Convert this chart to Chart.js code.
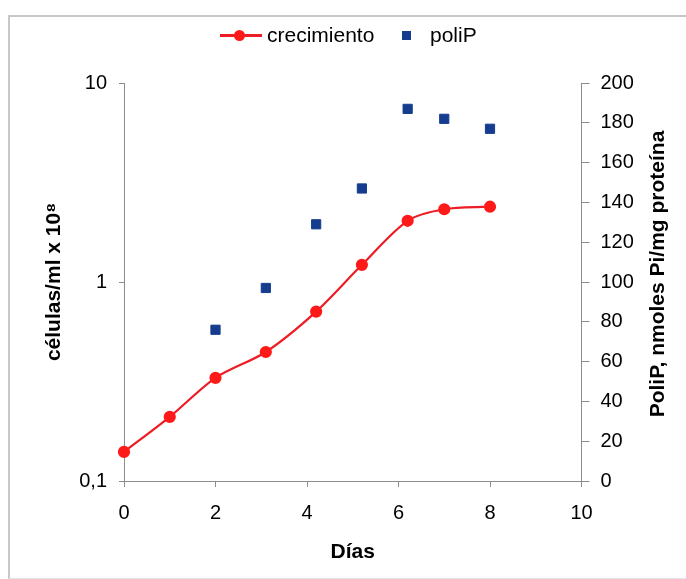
<!DOCTYPE html>
<html>
<head>
<meta charset="utf-8">
<script src="https://cdn.jsdelivr.net/npm/chart.js@4"></script>
<style>
  html, body { margin: 0; padding: 0; background: #fff; }
  #wrap { position: relative; width: 686px; height: 579px; font-family: "Liberation Sans", Arial, sans-serif; }
  #frame { position: absolute; left: 8px; top: 15px; width: 690px; height: 561px;
           border-left: 2px solid #c8c8c8; border-top: 2px solid #c8c8c8; border-bottom: 1px solid #e4e4e4; }
  #chart-box { position: absolute; left: 0; top: 0; width: 686px; height: 579px; }
  .legend { position: absolute; top: 22px; left: 0; height: 28px; font-size: 21px; color: #000; }
  .legend span { position: absolute; white-space: nowrap; }
  .leg-line { top: 12px; height: 3px; background: #ee1c25; }
  .leg-dot { top: 8px; width: 11px; height: 11px; border-radius: 50%; background: #ff1a1a; }
  .leg-sq { top: 9px; width: 9px; height: 9px; background: #153c8e; }
  .leg-text { top: 0; line-height: 26px; }
</style>
</head>
<body>
<div id="wrap">
  <div id="frame"></div>
  <div id="chart-box"><canvas id="chart"></canvas></div>
  <div class="legend">
    <span class="leg-line" style="left:220px;width:42px"></span>
    <span class="leg-dot" style="left:234px"></span>
    <span class="leg-text" style="left:267px">crecimiento</span>
    <span class="leg-sq" style="left:402px"></span>
    <span class="leg-text" style="left:430px">poliP</span>
  </div>
</div>
<script>
// x values (días)
const diasCrecimiento = [0, 1, 2, 3.1, 4.2, 5.2, 6.2, 7, 8];
const crecimiento = [0.14, 0.21, 0.33, 0.445, 0.71, 1.22, 2.03, 2.32, 2.39];

const diasPoliP = [2, 3.1, 4.2, 5.2, 6.2, 7, 8];
const poliP = [76, 97, 129, 147, 187, 182, 177];

// left log axis ticks
const leftTickValues = [0.1, 1, 10];
const leftTickLabels = ["0,1", "1", "10"];

const tituloX = "Días";
const tituloY = "células/ml x 10\u2078";
const tituloY2 = "PoliP, nmoles Pi/mg proteína";

const axisColor = "#8c8c8c";
const tickFont = { family: "'Liberation Sans', Arial, sans-serif", size: 20 };
const titleFont = { family: "'Liberation Sans', Arial, sans-serif", size: 21, weight: "bold" };

// Chart.js puts right-hand titles top-to-bottom, the reference reads bottom-to-top
const rightTitle = {
  id: "rightTitle",
  afterDraw(chart) {
    const s = chart.scales.y2;
    const ctx = chart.ctx;
    ctx.save();
    ctx.translate(s.right - 28, (s.top + s.bottom) / 2 - 8);
    ctx.rotate(-Math.PI / 2);
    ctx.font = "bold 21px 'Liberation Sans', Arial, sans-serif";
    ctx.textAlign = "center";
    ctx.textBaseline = "middle";
    ctx.fillStyle = "#000";
    ctx.fillText(tituloY2, 0, 0);
    ctx.restore();
  },
};

const ctx = document.getElementById("chart").getContext("2d");
new Chart(ctx, {
  type: "scatter",
  data: {
    datasets: [
      {
        label: "crecimiento",
        data: diasCrecimiento.map((d, i) => ({ x: d, y: crecimiento[i] })),
        yAxisID: "y",
        showLine: true,
        tension: 0.3,
        borderColor: "#ee1c25",
        borderWidth: 2.2,
        pointBackgroundColor: "#ff1a1a",
        pointBorderColor: "#ff1a1a",
        pointRadius: 5,
        pointHoverRadius: 5,
        clip: false,
      },
      {
        label: "poliP",
        data: diasPoliP.map((d, i) => ({ x: d, y: poliP[i] })),
        yAxisID: "y2",
        pointStyle: "rect",
        pointBackgroundColor: "#153c8e",
        pointBorderColor: "#153c8e",
        pointRadius: 6.5,
        pointHoverRadius: 6.5,
        clip: false,
      },
    ],
  },
  options: {
    responsive: true,
    maintainAspectRatio: false,
    animation: false,
    layout: { padding: { top: 83, left: 0, right: 0, bottom: 0 } },
    plugins: {
      legend: { display: false },
      tooltip: { enabled: false },
    },
    scales: {
      x: {
        type: "linear",
        min: 0,
        max: 10,
        ticks: { stepSize: 2, font: tickFont, color: "#000", padding: 14 },
        grid: { drawOnChartArea: false, tickLength: 6, color: axisColor },
        border: { color: axisColor, width: 1 },
        title: { display: true, text: tituloX, font: titleFont, color: "#000", padding: { top: 0, bottom: 14 } },
        afterFit(scale) { scale.height = 98; },
      },
      y: {
        type: "logarithmic",
        position: "left",
        min: 0.1,
        max: 10,
        afterBuildTicks(scale) {
          scale.ticks = leftTickValues.map((v) => ({ value: v }));
        },
        ticks: {
          font: tickFont,
          color: "#000",
          padding: 12,
          callback: (v) => leftTickLabels[leftTickValues.indexOf(v)] ?? "",
        },
        grid: { drawOnChartArea: false, tickLength: 5, color: axisColor },
        border: { color: axisColor, width: 1 },
        title: { display: true, text: tituloY, font: titleFont, color: "#000", padding: { top: 42, bottom: 0 } },
        afterFit(scale) { scale.width = 124; },
      },
      y2: {
        type: "linear",
        position: "right",
        min: 0,
        max: 200,
        ticks: { stepSize: 20, font: tickFont, color: "#000", padding: 11 },
        grid: { drawOnChartArea: false, tickLength: 8, color: axisColor },
        border: { color: axisColor, width: 1 },
        afterFit(scale) { scale.width = 104.5; },
      },
    },
  },
  plugins: [rightTitle],
});
</script>
</body>
</html>
